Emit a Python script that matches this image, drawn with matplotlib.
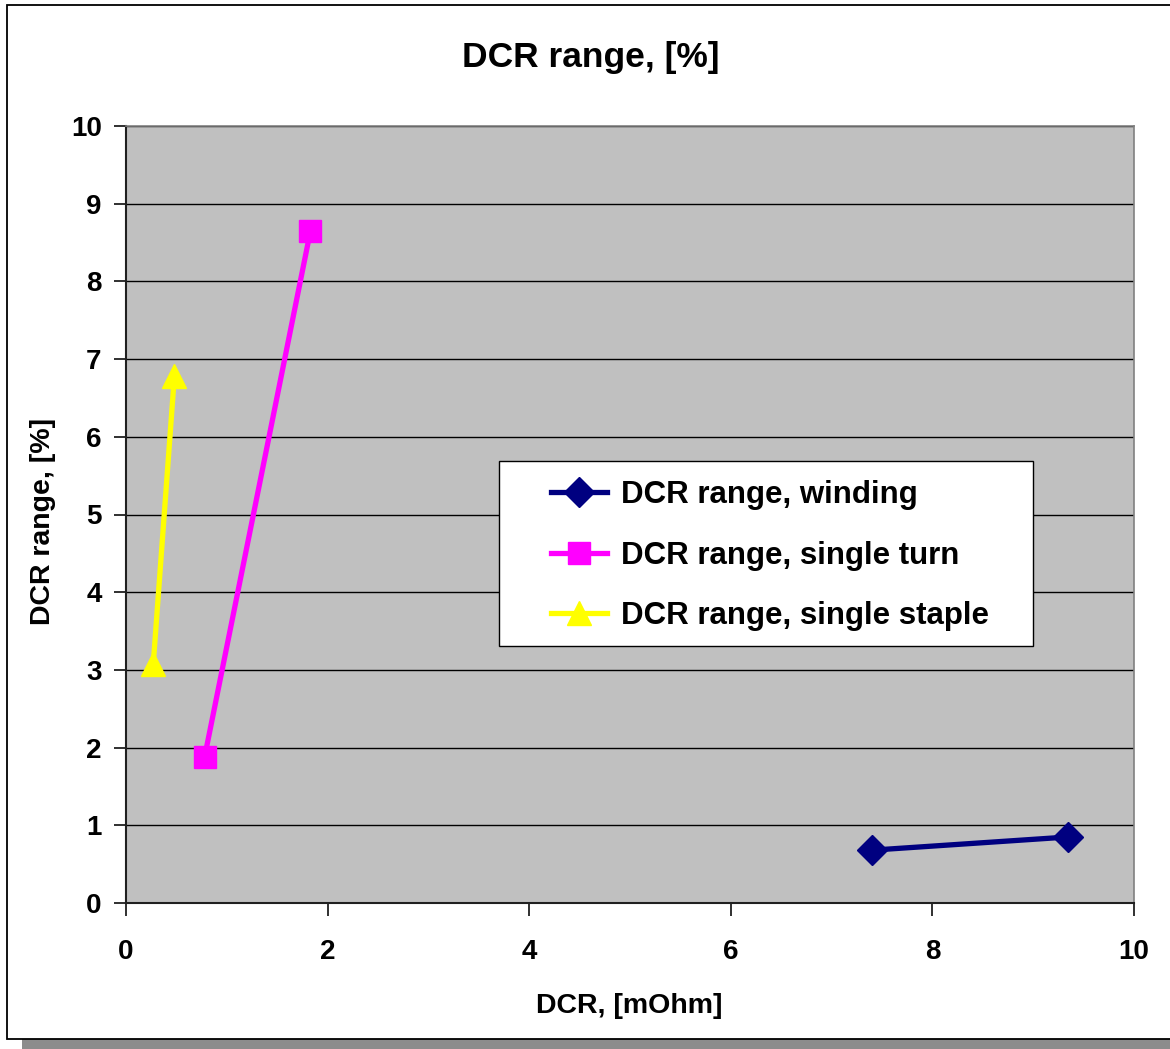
import matplotlib.pyplot as plt
from matplotlib.patches import Rectangle

plt.rcParams['font.family'] = ['Liberation Sans', 'DejaVu Sans']
plt.rcParams['font.weight'] = 'bold'

# Series data
winding_dcr = [7.4, 9.35]
winding_range = [0.68, 0.85]
turn_dcr = [0.78, 1.83]
turn_range = [1.88, 8.65]
staple_dcr = [0.27, 0.48]
staple_range = [3.07, 6.78]

labels = ['DCR range, winding', 'DCR range, single turn', 'DCR range, single staple']
x_ticks = [0, 2, 4, 6, 8, 10]
y_ticks = list(range(0, 11))

fig = plt.figure(figsize=(11.7, 10.49), dpi=100)
W, H = 1170, 1049

# Excel-like chart frame (cropped on the right) with a drop shadow below
fig.patches.append(Rectangle((22 / W, 0), 1 - 22 / W, 12 / H, transform=fig.transFigure,
                             facecolor='#8c8c8c', edgecolor='none', zorder=-3))
fig.patches.append(Rectangle((7 / W, 10 / H), 1200 / W, 1 - 15 / H, transform=fig.transFigure,
                             facecolor='white', edgecolor='black', linewidth=1.3, zorder=-2))

ax = fig.add_axes([126 / W, 1 - 903 / H, 1008 / W, 777 / H])
ax.set_facecolor('#c0c0c0')
ax.set_xlim(0, 10)
ax.set_ylim(0, 10)
ax.set_xticks(x_ticks)
ax.set_yticks(y_ticks)
ax.yaxis.grid(True, color='black', linewidth=1.0)
ax.set_axisbelow(True)

for side in ['top', 'right']:
    ax.spines[side].set_color('#808080')
    ax.spines[side].set_linewidth(1.2)
for side in ['left', 'bottom']:
    ax.spines[side].set_color('#202020')
    ax.spines[side].set_linewidth(1.5)

ax.tick_params(direction='out', length=9, width=1.3, labelsize=20, color='#202020')
ax.tick_params(axis='x', pad=17)
ax.tick_params(axis='y', pad=8.5)

ax.plot(winding_dcr, winding_range, color='#000080', marker='D', markersize=15,
        linewidth=3.8, label=labels[0], clip_on=False, zorder=3)
ax.plot(turn_dcr, turn_range, color='#ff00ff', marker='s', markersize=16,
        linewidth=3.8, label=labels[1], clip_on=False, zorder=3)
ax.plot(staple_dcr, staple_range, color='#ffff00', marker='^', markersize=17,
        linewidth=3.8, label=labels[2], clip_on=False, zorder=3)

fig.text(591 / W, 1 - 57 / H, 'DCR range, [%]', fontsize=25.5, fontweight='bold',
         ha='center', va='center')
ax.set_xlabel('DCR, [mOhm]', fontsize=20.5, fontweight='bold')
ax.set_ylabel('DCR range, [%]', fontsize=20.5, fontweight='bold')
ax.xaxis.set_label_coords((629 - 126) / 1008, (903 - 993) / 777)
ax.yaxis.set_label_coords((56 - 126) / 1008, (903 - 521) / 777)

# legend box drawn separately so the padding can match the reference
ax.add_patch(Rectangle(((499 - 126) / 1008, (903 - 646) / 777), 534 / 1008, 185 / 777,
                       transform=ax.transAxes, facecolor='white', edgecolor='black',
                       linewidth=1.0, zorder=4))
leg = ax.legend(loc='upper left', bbox_to_anchor=((551 - 126) / 1008, (903 - 480) / 777),
                fontsize=22.5, frameon=False, handlelength=1.8, handletextpad=0.45,
                labelspacing=0.98, borderpad=0, borderaxespad=0)
leg.set_zorder(5)

fig.savefig('out.png', dpi=100)
